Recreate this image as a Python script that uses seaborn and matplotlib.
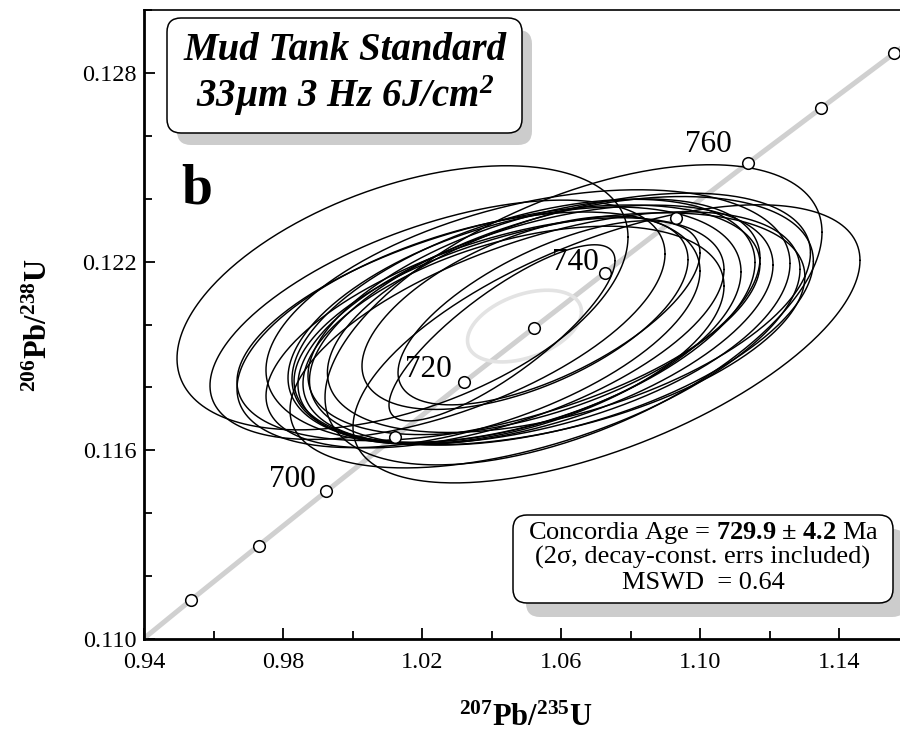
import numpy as np
import matplotlib
matplotlib.use("Agg")
import matplotlib.pyplot as plt
import seaborn as sns
from matplotlib.patches import FancyBboxPatch
from matplotlib.transforms import IdentityTransform
from matplotlib.ticker import FixedLocator, FixedFormatter

# ---------------- data ----------------
# concordia reference points (age in Ma, 207Pb/235U, 206Pb/238U)
conc_age = [680, 690, 700, 710, 720, 730, 740, 750, 760, 770, 780]
conc_x = [0.95365, 0.97298, 0.99251, 1.01223, 1.03215, 1.05226, 1.07257,
          1.09308, 1.11380, 1.13472, 1.15585]
conc_y = [0.11125, 0.11297, 0.11470, 0.11643, 0.11817, 0.11990, 0.12164,
          0.12338, 0.12513, 0.12687, 0.12862]
labelled_ages = [700, 720, 740, 760]

# concordia curve (extended to the frame)
curve_x = [0.94000] + conc_x + [1.16000]
curve_y = [0.11002] + conc_y + [0.12897]

# analysis error ellipses (2 sigma): centre, half-ranges, correlation
ell_cx = [1.01439, 1.02446, 1.03338, 1.04101, 1.04662, 1.04921, 1.05266,
          1.05668, 1.05223, 1.06012, 1.06228, 1.06360, 1.07309, 1.04964,
          1.04302, 1.05655, 1.04633, 1.05050, 1.04201, 1.05540]
ell_cy = [0.120849, 0.120150, 0.119831, 0.119736, 0.119990, 0.120118,
          0.119990, 0.119863, 0.120245, 0.120118, 0.120372, 0.120308,
          0.119385, 0.120372, 0.119735, 0.120372, 0.119672, 0.120245,
          0.120054, 0.119512]
ell_sx = [0.06489, 0.06547, 0.06662, 0.06590, 0.06518, 0.06662, 0.06835,
          0.07350, 0.06504, 0.07250, 0.06950, 0.07151, 0.07295, 0.04691,
          0.03252, 0.04345, 0.06058, 0.07540, 0.07525, 0.07338]
ell_sy = [0.004199, 0.003805, 0.003746, 0.003659, 0.003746, 0.003863,
          0.003805, 0.003688, 0.003746, 0.003951, 0.003805, 0.004772,
          0.004422, 0.003073, 0.002800, 0.002927, 0.003454, 0.004039,
          0.003746, 0.004072]
ell_rho = [0.46, 0.55, 0.50, 0.55, 0.45, 0.48, 0.50, 0.45, 0.50, 0.48,
           0.50, 0.55, 0.60, 0.55, 0.82, 0.65, 0.45, 0.42, 0.50, 0.55]

# concordia age ellipse
age_cx, age_cy, age_sx, age_sy, age_rho = 1.0495, 0.11995, 0.0164, 0.00114, 0.40

x_ticks = [0.94, 0.98, 1.02, 1.06, 1.10, 1.14]
x_ticklabels = ["0.94", "0.98", "1.02", "1.06", "1.10", "1.14"]
x_minor = [0.96, 1.00, 1.04, 1.08, 1.12]
y_ticks = [0.110, 0.116, 0.122, 0.128]
y_ticklabels = ["0.110", "0.116", "0.122", "0.128"]
y_minor = [0.112, 0.114, 0.118, 0.120, 0.124, 0.126, 0.130]

title_lines = ["Mud Tank Standard", "33\u00b5m 3 Hz 6J/cm"]
stats_lines = ["Concordia Age = $\\mathbf{729.9\\ \u00b1\\ 4.2}$ Ma",
               "(2\u03c3, decay-const. errs included)",
               "MSWD  = 0.64"]

# ---------------- style ----------------
sns.set_theme(style="white")
plt.rcParams["font.family"] = ["Liberation Serif", "DejaVu Serif"]
plt.rcParams["mathtext.fontset"] = "custom"
plt.rcParams["mathtext.rm"] = "Liberation Serif"
plt.rcParams["mathtext.it"] = "Liberation Serif:italic"
plt.rcParams["mathtext.bf"] = "Liberation Serif:bold"
has_bfit = True
try:
    plt.rcParams["mathtext.bfit"] = "Liberation Serif:bold:italic"
except KeyError:
    has_bfit = False

W, H = 900, 747
fig = plt.figure(figsize=(W / 100, H / 100), dpi=100)
fig.patch.set_facecolor("white")
ax = fig.add_axes([144 / W, 108 / H, 756 / W, 629 / H])
ax.set_facecolor("white")

ax.set_xlim(0.94, 0.94 + 756 / 3475)
ax.set_ylim(0.110, 0.130)

# concordia line
sns.lineplot(x=curve_x, y=curve_y, sort=False, color="#d0d0d0", lw=3.6,
             ax=ax, zorder=1)

# concordia age ellipse (light grey)
theta = np.linspace(0, 2 * np.pi, 400)
gx = age_cx + age_sx * np.cos(theta)
gy = age_cy + age_sy * (age_rho * np.cos(theta) + np.sqrt(1 - age_rho ** 2) * np.sin(theta))
ax.plot(gx, gy, color="#e3e3e3", lw=2.6, zorder=2)

# analysis ellipses
for cx, cy, sx, sy, r in zip(ell_cx, ell_cy, ell_sx, ell_sy, ell_rho):
    ex = cx + sx * np.cos(theta)
    ey = cy + sy * (r * np.cos(theta) + np.sqrt(1 - r * r) * np.sin(theta))
    ax.plot(ex, ey, color="black", lw=1.05, zorder=3)

# concordia markers
sns.scatterplot(x=conc_x, y=conc_y, s=70, color="white", edgecolor="black",
                linewidth=1.1, ax=ax, zorder=5)

# age labels
label_offsets = {700: (-11, 4), 720: (-12, 5), 740: (-6, 3), 760: (-16, 11)}
for age in labelled_ages:
    i = conc_age.index(age)
    dx, dy = label_offsets[age]
    ax.annotate(str(age), (conc_x[i], conc_y[i]), xytext=(dx, dy),
                textcoords="offset pixels", ha="right", va="baseline",
                fontsize=22.5, color="black", zorder=6)

# axes styling
ax.xaxis.set_major_locator(FixedLocator(x_ticks))
ax.xaxis.set_major_formatter(FixedFormatter(x_ticklabels))
ax.xaxis.set_minor_locator(FixedLocator(x_minor))
ax.yaxis.set_major_locator(FixedLocator(y_ticks))
ax.yaxis.set_major_formatter(FixedFormatter(y_ticklabels))
ax.yaxis.set_minor_locator(FixedLocator(y_minor))
ax.tick_params(which="both", direction="in", bottom=True, left=True,
               top=False, right=False, color="black", labelcolor="black",
               width=1.3)
ax.tick_params(which="major", length=8, labelsize=17.5)
ax.tick_params(axis="x", which="major", pad=9)
ax.tick_params(axis="y", which="major", pad=5)
ax.tick_params(which="minor", length=6)
ax.grid(False)
for s in ["left", "bottom"]:
    ax.spines[s].set_linewidth(2.0)
    ax.spines[s].set_color("black")
ax.spines["top"].set_linewidth(1.2)
ax.spines["top"].set_color("black")
ax.spines["right"].set_visible(False)

ax.set_xlabel(r"$^{\mathbf{207}}\mathbf{Pb/}^{\mathbf{235}}\mathbf{U}$",
              fontsize=22, color="black", va="center")
ax.xaxis.set_label_coords(0.505, -0.126)
ax.set_ylabel(r"$^{\mathbf{206}}\mathbf{Pb/}^{\mathbf{238}}\mathbf{U}$",
              fontsize=22, color="black", va="center")
ax.yaxis.set_label_coords(-0.138, 0.499)


def px_box(x0, y0, x1, y1, shadow=(12, 13), rs=14):
    """Rounded box with offset shadow, given top-left based pixel corners."""
    sh = FancyBboxPatch((x0 + shadow[0], H - y1 - shadow[1]), x1 - x0, y1 - y0,
                        boxstyle=f"round,pad=0,rounding_size={rs}",
                        transform=IdentityTransform(), facecolor="#cccccc",
                        edgecolor="none", zorder=7)
    bx = FancyBboxPatch((x0, H - y1), x1 - x0, y1 - y0,
                        boxstyle=f"round,pad=0,rounding_size={rs}",
                        transform=IdentityTransform(), facecolor="white",
                        edgecolor="black", lw=1.1, zorder=8)
    fig.add_artist(sh)
    fig.add_artist(bx)


def ftext(x, y, s, **kw):
    return fig.text(x / W, 1 - y / H, s, zorder=9, color="black", **kw)


# title box
px_box(167, 18, 522, 133, shadow=(10, 12))
ftext(345, 60, title_lines[0], ha="center", va="baseline", fontsize=28,
      fontweight="bold", fontstyle="italic")
sup = r"$^{\mathbfit{2}}$" if has_bfit else r"$^{\mathbf{2}}$"
ftext(345, 107, title_lines[1] + sup, ha="center", va="baseline",
      fontsize=28, fontweight="bold", fontstyle="italic")

# panel letter
ftext(181, 203, "b", ha="left", va="baseline", fontsize=40, fontweight="bold")

# statistics box
px_box(513, 515, 893, 603, shadow=(13, 14))
for yb, line in zip([539, 564, 589], stats_lines):
    ftext(703, yb, line, ha="center", va="baseline", fontsize=19)

fig.savefig("out.png", dpi=100, facecolor="white")
